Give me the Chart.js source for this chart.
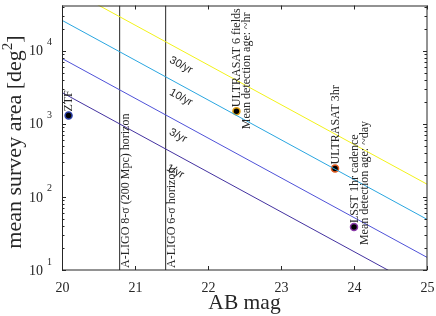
<!DOCTYPE html>
<html>
<head>
<meta charset="utf-8">
<script src="https://cdn.jsdelivr.net/npm/chart.js@4/dist/chart.umd.min.js"></script>
<style>
  body { margin: 0; background: #fff; }
  #wrap { width: 436px; height: 316px; }
</style>
</head>
<body>
<div id="wrap"><canvas id="surveyChart" width="436" height="316"></canvas></div>
<script>
// axis ticks
const xTicks = [20, 21, 22, 23, 24, 25];
const yTicks = [10, 100, 1000, 10000];

// constant-rate lines (area vs mag), value at mag 20 and mag 25
const rateNames = ["1/yr", "3/yr", "10/yr", "30/yr"];
const rateAt20 = [2670, 7800, 25900, 78000];
const rateAt25 = [5.1, 14.9, 49.3, 149];
const rateColors = ["#4432a0", "#4f52d8", "#2aa6e0", "#f2f21a"];
// where the rate names sit
const rateLabelMag = [21.55, 21.59, 21.63, 21.63];
const rateLabelArea = [223, 684, 2280, 6300];

// LIGO horizons
const ligoMags = [20.79, 21.42];
const ligoNames = ["A-LIGO 8-\u03c3 (200 Mpc) horizon", "A-LIGO 6-\u03c3 horizon"];

// surveys
const surveyNames = ["ZTF", "ULTRASAT 6 fields", "ULTRASAT 3hr", "LSST 1hr cadence"];
const surveyNotes = ["", "Mean detection age: ~hr", "", "Mean detection age: ~day"];
const surveyMag = [20.09, 22.39, 23.74, 24.0];
const surveyArea = [1290, 1480, 244, 38.6];
const surveyEdge = ["#2b3fa8", "#e0a010", "#e05a1e", "#8a3aa8"];

const SERIF = "'Liberation Serif', 'Times New Roman', serif";
const INK = "#262626";

function buildDatasets() {
  const sets = [];
  rateNames.forEach((name, i) => {
    sets.push({
      type: "line",
      label: name,
      data: [{ x: 20, y: rateAt20[i] }, { x: 25, y: rateAt25[i] }],
      borderColor: rateColors[i],
      borderWidth: 1,
      pointRadius: 0,
      tension: 0,
    });
  });
  ligoMags.forEach((m, i) => {
    sets.push({
      type: "line",
      label: ligoNames[i],
      data: [{ x: m, y: 10 }, { x: m, y: 41300 }],
      borderColor: INK,
      borderWidth: 1,
      pointRadius: 0,
    });
  });
  sets.push({
    type: "scatter",
    label: "surveys",
    data: surveyMag.map((m, i) => ({ x: m, y: surveyArea[i] })),
    backgroundColor: "#000",
    borderColor: surveyEdge,
    borderWidth: 1.5,
    pointRadius: 3.5,
  });
  return sets;
}

function rotText(ctx, text, x, y, angle, align, base) {
  ctx.save();
  ctx.translate(x, y);
  ctx.rotate(angle);
  ctx.textAlign = align;
  ctx.textBaseline = base;
  ctx.fillText(text, 0, 0);
  ctx.restore();
}

const decorations = {
  id: "decorations",
  afterDatasetsDraw(chart) {
    const ctx = chart.ctx;
    const xs = chart.scales.x;
    const ys = chart.scales.y;
    const a = chart.chartArea;
    ctx.save();

    // box
    ctx.strokeStyle = INK;
    ctx.lineWidth = 1;
    ctx.strokeRect(a.left + 0.5, a.top + 0.5, a.right - a.left - 0.5, a.bottom - a.top - 0.5);

    // x ticks
    ctx.fillStyle = INK;
    ctx.font = "14px " + SERIF;
    xTicks.forEach((v) => {
      const px = Math.round(xs.getPixelForValue(v)) + 0.5;
      ctx.beginPath();
      ctx.moveTo(px, a.bottom); ctx.lineTo(px, a.bottom - 4);
      ctx.moveTo(px, a.top); ctx.lineTo(px, a.top + 4);
      ctx.stroke();
      ctx.textAlign = "center";
      ctx.textBaseline = "middle";
      ctx.fillText(String(v), px, a.bottom + 18);
    });

    // y ticks (major + minor)
    yTicks.forEach((v) => {
      for (let k = 1; k < 10; k++) {
        const val = v * k;
        if (val > ys.max) break;
        const py = Math.round(ys.getPixelForValue(val)) + 0.5;
        const len = k === 1 ? 4 : 2.5;
        ctx.beginPath();
        ctx.moveTo(a.left, py); ctx.lineTo(a.left + len, py);
        ctx.moveTo(a.right, py); ctx.lineTo(a.right - len, py);
        ctx.stroke();
      }
      const py = ys.getPixelForValue(v);
      const exp = Math.round(Math.log10(v));
      ctx.font = "14px " + SERIF;
      ctx.textAlign = "right";
      ctx.textBaseline = "middle";
      ctx.fillText("10", 43, py + 1);
      ctx.font = "10px " + SERIF;
      ctx.textAlign = "left";
      ctx.fillText(String(exp), 47, py - 8);
    });

    // axis titles
    ctx.font = "21.5px " + SERIF;
    ctx.textAlign = "center";
    ctx.textBaseline = "alphabetic";
    ctx.fillText("AB mag", (a.left + a.right) / 2, 309);

    ctx.save();
    ctx.translate(21, 142);
    ctx.rotate(-Math.PI / 2);
    const main = "mean survey area [deg";
    ctx.font = "22px " + SERIF;
    const w1 = ctx.measureText(main).width;
    const wb = ctx.measureText("]").width;
    ctx.font = "15px " + SERIF;
    const w2 = ctx.measureText("2").width;
    const total = w1 + w2 + wb;
    let cx = -total / 2;
    ctx.textAlign = "left";
    ctx.font = "22px " + SERIF;
    ctx.fillText(main, cx, 0);
    cx += w1;
    ctx.font = "15px " + SERIF;
    ctx.fillText("2", cx, -9);
    cx += w2;
    ctx.font = "22px " + SERIF;
    ctx.fillText("]", cx, 0);
    ctx.restore();

    // LIGO labels
    ctx.font = "12px " + SERIF;
    ligoMags.forEach((m, i) => {
      const px = xs.getPixelForValue(m);
      rotText(ctx, ligoNames[i], px + 6.5, a.bottom - 2, -Math.PI / 2, "left", "middle");
    });

    // survey labels
    surveyNames.forEach((n, i) => {
      const px = xs.getPixelForValue(surveyMag[i]);
      const py = ys.getPixelForValue(surveyArea[i]);
      rotText(ctx, n, px + 0.5, py - 4, -Math.PI / 2, "left", "middle");
      if (surveyNotes[i]) {
        rotText(ctx, surveyNotes[i], px + 10.5, py + 18, -Math.PI / 2, "left", "middle");
      }
    });

    // rate labels
    ctx.font = "11px 'Liberation Sans', Arial, sans-serif";
    rateNames.forEach((n, i) => {
      const px = xs.getPixelForValue(rateLabelMag[i]);
      const py = ys.getPixelForValue(rateLabelArea[i]);
      rotText(ctx, n, px, py, 0.5, "center", "middle");
    });

    ctx.restore();
  },
};

function drawChart() {
  const ctx = document.getElementById("surveyChart").getContext("2d");
  new Chart(ctx, {
    data: { datasets: buildDatasets() },
    options: {
      responsive: false,
      animation: false,
      layout: { padding: { left: 62, right: 9, top: 0, bottom: 46 } },
      plugins: { legend: { display: false }, tooltip: { enabled: false } },
      scales: {
        x: { type: "linear", min: 20, max: 25, display: false },
        y: { type: "logarithmic", min: 10, max: 41300, display: false },
      },
    },
    plugins: [decorations],
  });
}

drawChart();
</script>
</body>
</html>
